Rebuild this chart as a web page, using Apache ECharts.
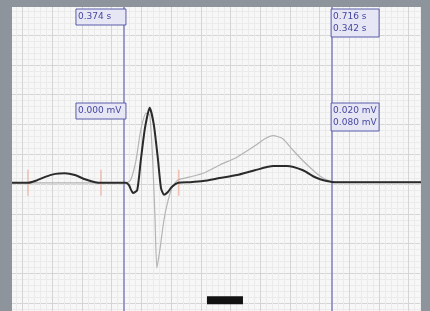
<!DOCTYPE html>
<html>
<head>
<meta charset="utf-8">
<script src="https://cdn.jsdelivr.net/npm/echarts@6/dist/echarts.min.js"></script>
<style>
  html, body { margin: 0; padding: 0; background: #8d949b; }
  #chart { width: 430px; height: 311px; }
</style>
</head>
<body>
<div id="chart"></div>
<script>
// time in s, amplitude in mV
const blackTrace = [
  [0.15, 0.02], [0.209, 0.02], [0.221, 0.05], [0.238, 0.12], [0.255, 0.17], [0.271, 0.18],
  [0.288, 0.15], [0.305, 0.08], [0.322, 0.03], [0.334, 0.02], [0.374, 0.02], [0.379, -0.02],
  [0.386, -0.15], [0.393, -0.10], [0.399, 0.40], [0.406, 0.94], [0.414, 1.28], [0.421, 0.99],
  [0.428, 0.40], [0.433, -0.07], [0.438, -0.18], [0.445, -0.13], [0.451, -0.05], [0.462, 0.02],
  [0.482, 0.03], [0.504, 0.05], [0.532, 0.10], [0.561, 0.15], [0.591, 0.23], [0.622, 0.30],
  [0.645, 0.30], [0.672, 0.23], [0.689, 0.13], [0.701, 0.08], [0.712, 0.05], [0.726, 0.03],
  [0.871, 0.03]
]
const greyTrace = [
  [0.15, 0.02], [0.374, 0.02], [0.382, 0.07], [0.391, 0.40], [0.399, 0.91], [0.408, 1.19],
  [0.414, 1.16], [0.419, 0.40], [0.423, -0.60], [0.426, -1.41], [0.431, -1.11], [0.438, -0.60],
  [0.445, -0.27], [0.453, -0.03], [0.462, 0.07], [0.482, 0.12], [0.504, 0.18], [0.532, 0.32],
  [0.561, 0.45], [0.591, 0.64], [0.608, 0.76], [0.622, 0.81], [0.638, 0.76], [0.655, 0.57],
  [0.672, 0.39], [0.689, 0.23], [0.701, 0.13], [0.712, 0.07], [0.726, 0.03], [0.871, 0.03]
]
const markerTimes = [0.209, 0.332, 0.463]
const cursorTimes = [0.374, 0.716]
const timeLabels = ['0.374 s', '0.716 s', '0.342 s']
const voltLabels = ['0.000 mV', '0.020 mV', '0.080 mV']
const scaleBar = [[0.5104, -1.95], [0.571, -1.95]]

const chart = echarts.init(document.getElementById('chart'))

const option = {
  animation: false,
  grid: {
    left: -7.1, right: 9, top: 5.2, bottom: -22,
    show: true, backgroundColor: '#f7f7f7', borderWidth: 0,
    containLabel: false, outerBoundsMode: 'none'
  },
  xAxis: {
    type: 'value', min: 0.15, max: 0.8707, interval: 0.05,
    axisLine: { show: false }, axisTick: { show: false }, axisLabel: { show: false },
    splitLine: { show: true, lineStyle: { color: '#d5d5d5', width: 1 } },
    minorTick: { show: false, splitNumber: 5 },
    minorSplitLine: { show: true, lineStyle: { color: '#ebebeb', width: 1 } }
  },
  yAxis: {
    type: 'value', min: -2.5, max: 3.0, interval: 0.5,
    axisLine: { show: false }, axisTick: { show: false }, axisLabel: { show: false },
    splitLine: { show: true, lineStyle: { color: '#d5d5d5', width: 1 } },
    minorTick: { show: false, splitNumber: 5 },
    minorSplitLine: { show: true, lineStyle: { color: '#ebebeb', width: 1 } }
  },
  series: [
    {
      name: 'grey', type: 'line', data: greyTrace, symbol: 'none', smooth: 0.2, z: 3,
      lineStyle: { color: '#b4b4b4', width: 1.2 }
    },
    {
      name: 'cursors', type: 'line', data: [], z: 4,
      markLine: {
        silent: true, symbol: 'none', label: { show: false },
        lineStyle: { color: '#7f81bd', width: 1.5, type: 'solid' },
        data: cursorTimes.map(t => ({ xAxis: t }))
      }
    },
    {
      name: 'markers', type: 'scatter', z: 5, symbol: 'rect', symbolSize: [1.2, 26],
      itemStyle: { color: '#eaa28f' },
      data: markerTimes.map(t => [t, 0.02])
    },
    {
      name: 'black', type: 'line', data: blackTrace, symbol: 'none', smooth: 0.2, z: 6,
      lineStyle: { color: '#2b2b2b', width: 2 }
    },
    {
      name: 'scale', type: 'line', data: scaleBar, symbol: 'none', z: 6,
      lineStyle: { color: '#111111', width: 8, cap: 'butt' }
    }
  ]
}
chart.setOption(option)

function labelBox(x, y, w, lines) {
  const h = lines.length * 12 + 4
  return {
    type: 'group', x: x, y: y, z: 50,
    children: [
      { type: 'rect', shape: { x: 0, y: 0, width: w, height: h },
        style: { fill: '#e6e6f5', stroke: '#5b5ca8', lineWidth: 1 }, z: 50 },
      { type: 'text', x: 2, y: 2, z: 51,
        style: { text: lines.join('\n'), fill: '#4646a0', font: '9px "DejaVu Sans", sans-serif', lineHeight: 12 } }
    ]
  }
}

const c1 = chart.convertToPixel({ xAxisIndex: 0 }, cursorTimes[0])
const c2 = chart.convertToPixel({ xAxisIndex: 0 }, cursorTimes[1])

chart.setOption({
  graphic: [
    labelBox(c1 - 50, 9, 50, [timeLabels[0]]),
    labelBox(c1 - 50, 103, 50, [voltLabels[0]]),
    labelBox(c2 + 2, 9, 48, [timeLabels[1], timeLabels[2]]),
    labelBox(c2 + 2, 103, 48, [voltLabels[1], voltLabels[2]]),
    { type: 'rect', z: 100, shape: { x: 0, y: 0, width: 12, height: 311 }, style: { fill: '#8d949b' } },
    { type: 'rect', z: 100, shape: { x: 421, y: 0, width: 9, height: 311 }, style: { fill: '#8d949b' } },
    { type: 'rect', z: 100, shape: { x: 0, y: 0, width: 430, height: 7 }, style: { fill: '#8d949b' } }
  ]
})

window.addEventListener('resize', () => chart.resize())
</script>
</body>
</html>
